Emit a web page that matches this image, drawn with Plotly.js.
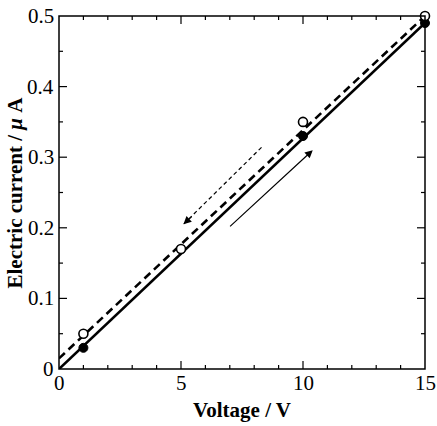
<!DOCTYPE html>
<html><head><meta charset="utf-8">
<script src="https://cdn.plot.ly/plotly-3.0.1.min.js"></script>
<style>body{margin:0;background:#fff}#c{width:437px;height:426px}</style>
</head><body><div id="c"></div>
<script>
// forward sweep (filled), reverse sweep (open)
const fwdV = [1, 10, 15];
const fwdI = [0.03, 0.33, 0.49];
const revV = [1, 5, 10, 15];
const revI = [0.05, 0.17, 0.35, 0.50];
// fitted lines
const fitFwdV = [0, 15];
const fitFwdI = [0.0, 0.49];
const fitRevV = [0, 15];
const fitRevI = [0.015, 0.50];
// direction arrows [tail, head]
const arrowUpV = [6.95, 10.4];
const arrowUpI = [0.200, 0.310];
const arrowDownV = [8.3, 5.1];
const arrowDownI = [0.314, 0.205];
// ticks
const xMajor = [0, 5, 10, 15];
const xLabels = ['0', '5', '10', '15'];
const xMinor = [1, 2, 3, 4, 6, 7, 8, 9, 11, 12, 13, 14];
const yMajor = [0, 0.1, 0.2, 0.3, 0.4, 0.5];
const yLabels = ['0', '0.1', '0.2', '0.3', '0.4', '0.5'];
const yMinor = [0.05, 0.15, 0.25, 0.35, 0.45];
const xTitle = '<b>Voltage / V</b>';
const yTitle = '<b>Electric current / <i>μ</i> A</b>';

const W = 437, H = 426;
const M = {l: 59, r: 12, t: 16, b: 57};
const xRange = [0, 15], yRange = [0, 0.5];
const pxX = (xRange[1] - xRange[0]) / (W - M.l - M.r);   // data units per pixel
const pxY = (yRange[1] - yRange[0]) / (H - M.t - M.b);

const FAM = 'Liberation Serif';
const tickFont = {family: FAM, size: 21, color: '#000'};
const titleFont = {family: FAM, size: 21, color: '#000'};

const traces = [
  {x: fitFwdV, y: fitFwdI, mode: 'lines', line: {color: '#000', width: 2.6}, hoverinfo: 'skip', cliponaxis: false},
  {x: fitRevV, y: fitRevI, mode: 'lines', line: {color: '#000', width: 2.6, dash: '8px,5px'}, hoverinfo: 'skip', cliponaxis: false},
  {x: fwdV, y: fwdI, mode: 'markers', cliponaxis: false, marker: {symbol: 'circle', size: 9, color: '#000', line: {color: '#000', width: 1}}},
  {x: revV, y: revI, mode: 'markers', cliponaxis: false, marker: {symbol: 'circle', size: 9, color: '#fff', line: {color: '#000', width: 1.6}}},
  // dashed body of reverse arrow
  {x: arrowDownV, y: arrowDownI, mode: 'lines', line: {color: '#000', width: 1.2, dash: '4px,3px'}, hoverinfo: 'skip'}
];

const annotations = [
  {x: arrowUpV[1], y: arrowUpI[1], ax: arrowUpV[0], ay: arrowUpI[0], xref: 'x', yref: 'y', axref: 'x', ayref: 'y',
   showarrow: true, arrowhead: 2, arrowsize: 1.3, arrowwidth: 1.2, arrowcolor: '#000', text: ''},
  {x: arrowDownV[1], y: arrowDownI[1], ax: arrowDownV[1] + 0.4, ay: arrowDownI[1] + 0.0128, xref: 'x', yref: 'y', axref: 'x', ayref: 'y',
   showarrow: true, arrowhead: 2, arrowsize: 1.3, arrowwidth: 1.2, arrowcolor: '#000', text: ''}
];
// tick labels
xMajor.forEach((v, i) => annotations.push({x: v, y: 0, xref: 'x', yref: 'paper', yanchor: 'top', xanchor: 'center',
  yshift: 0, text: xLabels[i], showarrow: false, font: tickFont}));
yMajor.forEach((v, i) => annotations.push({x: 0, y: v, xref: 'paper', yref: 'y', xanchor: 'right', yanchor: 'middle',
  xshift: -3, text: yLabels[i], showarrow: false, font: tickFont}));
// axis titles
annotations.push({x: 0.5, y: 0, xref: 'paper', yref: 'paper', xanchor: 'center', yanchor: 'top', yshift: -27,
  text: xTitle, showarrow: false, font: titleFont});
annotations.push({x: 0, y: 0.5, xref: 'paper', yref: 'paper', xanchor: 'center', yanchor: 'middle', xshift: -45,
  textangle: -90, text: yTitle, showarrow: false, font: titleFont});

// frame and inside ticks on all four sides
const shapes = [{type: 'rect', xref: 'paper', yref: 'paper', x0: 0, x1: 1, y0: 0, y1: 1,
  line: {color: '#000', width: 1.5}, fillcolor: 'rgba(0,0,0,0)', layer: 'above'}];
const tl = {color: '#000', width: 1.2};
function xTick(v, len) {
  const d = len * pxY;
  shapes.push({type: 'line', xref: 'x', yref: 'y', x0: v, x1: v, y0: yRange[0], y1: yRange[0] + d, line: tl});
  shapes.push({type: 'line', xref: 'x', yref: 'y', x0: v, x1: v, y0: yRange[1], y1: yRange[1] - d, line: tl});
}
function yTick(v, len) {
  const d = len * pxX;
  shapes.push({type: 'line', xref: 'x', yref: 'y', y0: v, y1: v, x0: xRange[0], x1: xRange[0] + d, line: tl});
  shapes.push({type: 'line', xref: 'x', yref: 'y', y0: v, y1: v, x0: xRange[1], x1: xRange[1] - d, line: tl});
}
xMajor.slice(1, -1).forEach(v => xTick(v, 8));
xMinor.forEach(v => xTick(v, 4));
yMajor.slice(1, -1).forEach(v => yTick(v, 8));
yMinor.forEach(v => yTick(v, 4));

const hidden = {showline: false, ticks: '', showticklabels: false, showgrid: false, zeroline: false};
const layout = {
  width: W, height: H,
  margin: M,
  paper_bgcolor: '#fff', plot_bgcolor: '#fff',
  showlegend: false,
  font: {family: FAM, color: '#000'},
  xaxis: Object.assign({range: xRange}, hidden),
  yaxis: Object.assign({range: yRange}, hidden),
  annotations: annotations,
  shapes: shapes
};

Plotly.newPlot('c', traces, layout, {displayModeBar: false, staticPlot: true});
</script>
</body></html>
